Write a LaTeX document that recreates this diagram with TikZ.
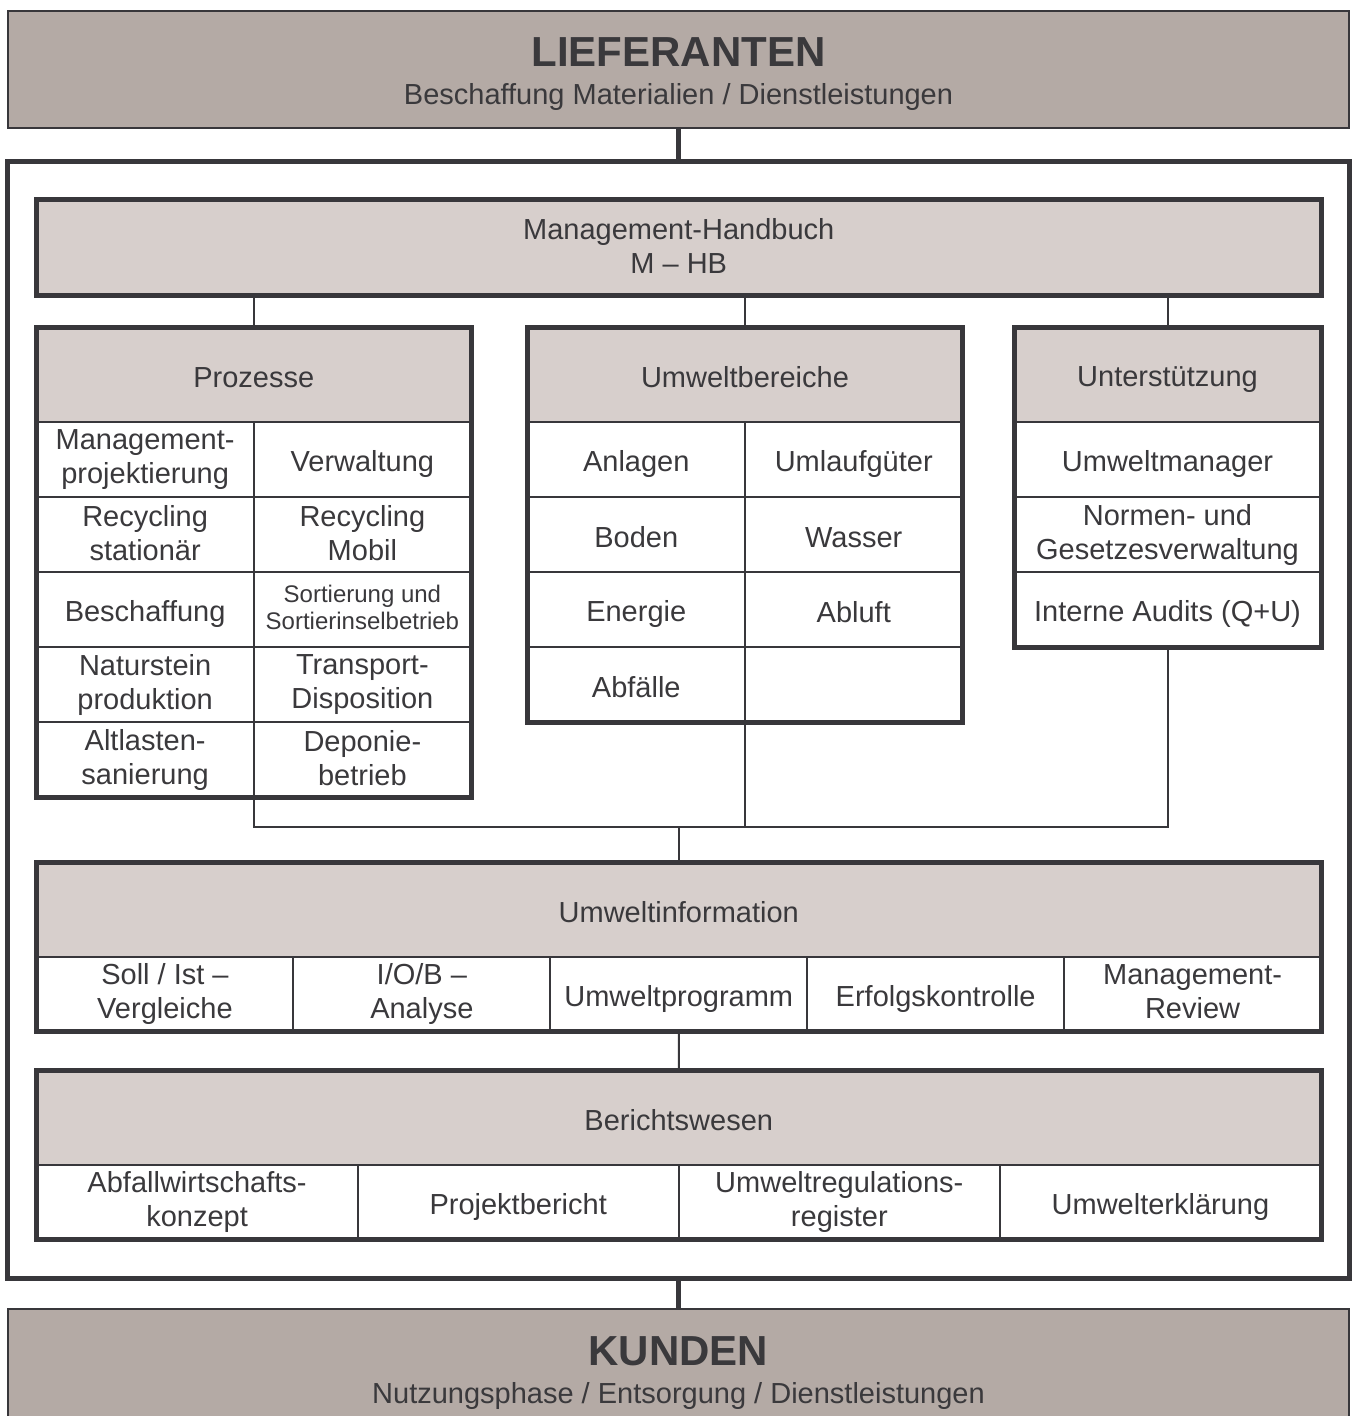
\documentclass[tikz,border=0pt]{standalone}
\usepackage{fontspec}
\setmainfont{Liberation Sans}
\usepackage{xcolor}
\usetikzlibrary{positioning}
\definecolor{edge}{HTML}{38373B}
\definecolor{ink}{HTML}{3A393C}
\definecolor{darkfill}{HTML}{B4AAA5}
\definecolor{lightfill}{HTML}{D7CFCC}
\newcommand{\cellstrut}{\rule[-4pt]{0pt}{34pt}}

\begin{document}
\begin{tikzpicture}[x=1pt,y=-1pt,
    cell/.style={draw=edge,line width=2pt,fill=white,text=ink,inner sep=0pt,outer sep=0pt,
      align=center,minimum height=75pt,font=\fontsize{29}{34}\selectfont,
      execute at begin node=\cellstrut,execute at end node=\cellstrut},
    head/.style={cell,fill=lightfill,minimum height=94.5pt},
    partner/.style={draw=edge,line width=2pt,fill=darkfill,text=ink,inner sep=0pt,outer sep=0pt,
      align=center,minimum width=1341pt,minimum height=117pt,font=\fontsize{29}{38}\selectfont},
    link/.style={draw=edge,line width=2pt},
    thicklink/.style={draw=edge,line width=4.7pt},
    group/.style={draw=edge,line width=5pt}]
  \tikzstyle{pcell}=[cell,minimum width=217.25pt]
  \tikzstyle{ucell}=[cell,minimum width=217.5pt]
  \tikzstyle{scell}=[cell,minimum width=307pt]
  \tikzstyle{icell}=[cell,minimum width=256.9pt]
  \tikzstyle{bcell}=[cell,minimum width=321.125pt]
  \tikzstyle{small}=[font=\fontsize{24}{27}\selectfont]

  \useasboundingbox (0,0) rectangle (1356,1416);

  % Lieferanten / Kunden
  \node[partner] (lief) at (678.5,69.5)
    {\rule{0pt}{39pt}{\fontsize{42}{38}\bfseries LIEFERANTEN}\\Beschaffung Materialien / Dienstleistungen};
  \node[group,inner sep=0pt,outer sep=0pt,minimum width=1342pt,minimum height=1116.5pt]
    (frame) at (678.5,719.75) {};
  \node[partner] (kund) at (678.5,1367.5)
    {\rule{0pt}{39pt}{\fontsize{42}{38}\bfseries KUNDEN}\\Nutzungsphase / Entsorgung / Dienstleistungen};

  % Management-Handbuch
  \node[head,line width=5pt,minimum width=1284.5pt,minimum height=96pt] (mhb) at (678.75,247.5)
    {Management-Handbuch\\M – HB};

  % Prozesse
  \node[head,minimum width=434.5pt] (proz) at (253.75,374.75) {Prozesse};
  \node[pcell,anchor=north west] (p11) at (proz.south west) {Management-\\projektierung};
  \node[pcell] (p12) [right=0pt of p11] {Verwaltung};
  \node[pcell] (p21) [below=0pt of p11] {Recycling\\stationär};
  \node[pcell] (p22) [right=0pt of p21] {Recycling\\Mobil};
  \node[pcell] (p31) [below=0pt of p21] {Beschaffung};
  \node[pcell,small] (p32) [right=0pt of p31] {Sortierung und\\Sortierinselbetrieb};
  \node[pcell] (p41) [below=0pt of p31] {Naturstein\\produktion};
  \node[pcell] (p42) [right=0pt of p41] {Transport-\\Disposition};
  \node[pcell] (p51) [below=0pt of p41] {Altlasten-\\sanierung};
  \node[pcell] (p52) [right=0pt of p51] {Deponie-\\betrieb};
  \draw[group] (proz.north west) rectangle (p52.south east);

  % Umweltbereiche
  \node[head,minimum width=435pt] (umw) at (745,374.75) {Umweltbereiche};
  \node[ucell,anchor=north west] (u11) at (umw.south west) {Anlagen};
  \node[ucell] (u12) [right=0pt of u11] {Umlaufgüter};
  \node[ucell] (u21) [below=0pt of u11] {Boden};
  \node[ucell] (u22) [right=0pt of u21] {Wasser};
  \node[ucell] (u31) [below=0pt of u21] {Energie};
  \node[ucell] (u32) [right=0pt of u31] {Abluft};
  \node[ucell] (u41) [below=0pt of u31] {Abfälle};
  \node[ucell] (u42) [right=0pt of u41] {};
  \draw[group] (umw.north west) rectangle (u42.south east);

  % Unterstuetzung
  \node[head,minimum width=307pt] (unt) at (1167.5,374.75) {Unterstützung};
  \node[scell,anchor=north] (s1) at (unt.south) {Umweltmanager};
  \node[scell] (s2) [below=0pt of s1] {Normen- und\\Gesetzesverwaltung};
  \node[scell] (s3) [below=0pt of s2] {Interne Audits (Q+U)};
  \draw[group] (unt.north west) rectangle (s3.south east);

  % Umweltinformation
  \node[head,minimum width=1284.5pt] (info) at (678.75,909.25) {Umweltinformation};
  \node[icell,anchor=north west] (i1) at (info.south west) {Soll / Ist –\\Vergleiche};
  \node[icell] (i2) [right=0pt of i1] {I/O/B –\\Analyse};
  \node[icell] (i3) [right=0pt of i2] {Umweltprogramm};
  \node[icell] (i4) [right=0pt of i3] {Erfolgskontrolle};
  \node[icell] (i5) [right=0pt of i4] {Management-\\Review};
  \draw[group] (info.north west) rectangle (i5.south east);

  % Berichtswesen
  \node[head,minimum width=1284.5pt] (ber) at (678.75,1117.25) {Berichtswesen};
  \node[bcell,anchor=north west] (b1) at (ber.south west) {Abfallwirtschafts-\\konzept};
  \node[bcell] (b2) [right=0pt of b1] {Projektbericht};
  \node[bcell] (b3) [right=0pt of b2] {Umweltregulations-\\register};
  \node[bcell] (b4) [right=0pt of b3] {Umwelterklärung};
  \draw[group] (ber.north west) rectangle (b4.south east);

  % Verbindungen
  \coordinate (join) at (678.75,827);
  \draw[thicklink] (lief.south) -- (frame.north);
  \draw[link] (mhb.south -| proz.north) -- (proz.north);
  \draw[link] (mhb.south -| umw.north) -- (umw.north);
  \draw[link] (mhb.south -| unt.north) -- (unt.north);
  \draw[link] (proz |- p51.south) |- (join) -| (unt |- s3.south);
  \draw[link] (umw |- u41.south) -- (umw |- join);
  \draw[link] (join) -- (info.north);
  \draw[link] (i3.south) -- (ber.north);
  \draw[thicklink] (frame.south) -- (kund.north);
\end{tikzpicture}
\end{document}
